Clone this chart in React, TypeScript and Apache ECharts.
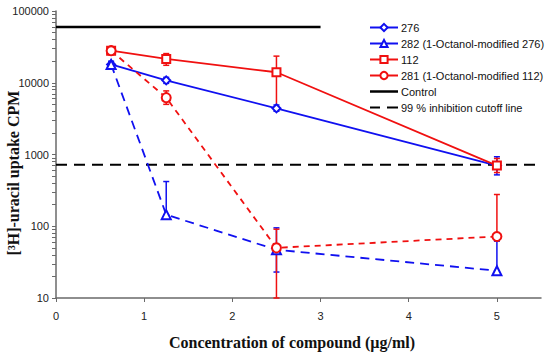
import React, { useEffect, useRef } from "react";
import * as echarts from "echarts";

const concentrations = [0.625, 1.25, 2.5, 5];

const s276 = [18000, 10800, 4400, 700];
const s282 = [18000, 145, 47, 24];
const s112 = [28000, 21500, 14000, 700];
const s281 = [28000, 6200, 50, 72];

// [low, high] error ranges
const e276 = [[16000, 20000], [9800, 11900], [4000, 4900], [520, 930]];
const e282 = [[16500, 19500], [145, 420], [23, 95], [24, 62]];
const e112 = [[25500, 31000], [17500, 25500], [4300, 23500], [560, 880]];
const e281 = [[25500, 31000], [5000, 7700], [10, 91], [72, 277]];

const controlX = [0, 3];
const controlValue = 60000;
const cutoffX = [0, 5.5];
const cutoffValue = 720;

const xTicks = [0, 1, 2, 3, 4, 5];
const yMajor = [10, 100, 1000, 10000, 100000];

const BLUE = "#1010f0";
const RED = "#f01010";

function pts(vals: number[]) {
  return concentrations.map((x, i) => [x, vals[i]]);
}
function errData(errs: number[][]) {
  return concentrations.map((x, i) => [x, errs[i][0], errs[i][1]]);
}

function yMinorAll() {
  const out: number[] = [];
  for (let d = 10; d <= 10000; d *= 10) {
    for (let k = 1; k <= 9; k++) out.push(d * k);
  }
  out.push(100000);
  return out;
}

function errSeries(name: string, errs: number[][], color: string) {
  return {
    type: "custom",
    name: name + "_err",
    data: errData(errs),
    encode: { x: 0, y: [1, 2] },
    z: 3,
    silent: true,
    renderItem: (params: any, api: any) => {
      const x = api.value(0);
      const lo = api.value(1);
      const hi = api.value(2);
      const p1 = api.coord([x, lo]);
      const p2 = api.coord([x, hi]);
      const cw = 3;
      const style = { stroke: color, lineWidth: 1.5 };
      return {
        type: "group",
        children: [
          { type: "line", shape: { x1: p1[0], y1: p1[1], x2: p2[0], y2: p2[1] }, style },
          { type: "line", shape: { x1: p1[0] - cw, y1: p1[1], x2: p1[0] + cw, y2: p1[1] }, style },
          { type: "line", shape: { x1: p2[0] - cw, y1: p2[1], x2: p2[0] + cw, y2: p2[1] }, style },
        ],
      };
    },
  };
}

export default function App() {
  const ref = useRef<HTMLDivElement>(null);
  useEffect(() => {
    if (!ref.current) return;
    const chart = echarts.init(ref.current, undefined, { renderer: "svg" });
    const font = "'Liberation Sans', Arial, sans-serif";
    const serif = "'Liberation Serif', 'Times New Roman', serif";
    chart.setOption({
      animation: false,
      backgroundColor: "#ffffff",
      grid: { left: 56, right: 9, top: 11, bottom: 59, containLabel: false },
      xAxis: {
        type: "value",
        min: 0,
        max: 5.5,
        interval: 1,
        axisLine: { show: true, lineStyle: { color: "#6a6a6a", width: 1.5 } },
        axisTick: { show: true, length: 4, customValues: xTicks, lineStyle: { color: "#6a6a6a" } },
        axisLabel: { customValues: xTicks, margin: 12, fontSize: 11, color: "#222", fontFamily: font },
        splitLine: { show: false },
      },
      yAxis: {
        type: "log",
        logBase: 10,
        min: 10,
        max: 100000,
        axisLine: { show: true, lineStyle: { color: "#6a6a6a", width: 1.5 } },
        axisTick: { show: true, length: 4, customValues: yMinorAll(), lineStyle: { color: "#6a6a6a" } },
        axisLabel: {
          customValues: yMajor,
          margin: 7,
          fontSize: 11,
          color: "#222",
          fontFamily: font,
          formatter: (v: number) => String(Math.round(v)),
        },
        splitLine: { show: false },
        minorTick: { show: false },
      },
      legend: {
        orient: "vertical",
        left: 364,
        top: 17,
        itemWidth: 28,
        itemHeight: 9,
        itemGap: 5,
        textStyle: { fontSize: 11, color: "#111", fontFamily: font, padding: [0, 0, 0, -2] },
        data: [
          { name: "276" },
          { name: "282 (1-Octanol-modified 276)", lineStyle: { type: "solid" } },
          { name: "112" },
          { name: "281 (1-Octanol-modified 112)", lineStyle: { type: "solid" } },
          { name: "Control", icon: "path://M0,0h28v2.5h-28z" },
          { name: "99 % inhibition cutoff line", icon: "path://M0,0h10v2.2h-10z M17,0h11v2.2h-11z" },
        ],
      },
      graphic: [
        {
          type: "text",
          x: 13,
          y: 173,
          rotation: Math.PI / 2,
          style: {
            text: "[³H]-uracil uptake CPM",
            font: `bold 16px ${serif}`,
            fill: "#111",
            textAlign: "center",
            textVerticalAlign: "middle",
          },
        },
        {
          type: "text",
          x: 292,
          y: 342,
          style: {
            text: "Concentration of compound (µg/ml)",
            font: `bold 16px ${serif}`,
            fill: "#111",
            textAlign: "center",
            textVerticalAlign: "middle",
          },
        },
      ],
      series: [
        {
          type: "line",
          name: "Control",
          data: controlX.map((x) => [x, controlValue]),
          symbol: "none",
          lineStyle: { color: "#000", width: 2.5 },
          itemStyle: { color: "#000" },
          z: 1,
        },
        {
          type: "line",
          name: "99 % inhibition cutoff line",
          data: cutoffX.map((x) => [x, cutoffValue]),
          symbol: "none",
          lineStyle: { color: "#000", width: 2, type: [11, 7] },
          itemStyle: { color: "#000" },
          z: 1,
        },
        errSeries("276", e276, BLUE),
        errSeries("282", e282, BLUE),
        errSeries("112", e112, RED),
        errSeries("281", e281, RED),
        {
          type: "line",
          name: "276",
          data: pts(s276),
          symbol: "emptyDiamond",
          symbolSize: 8,
          lineStyle: { color: BLUE, width: 1.8 },
          itemStyle: { color: BLUE, borderWidth: 1.2 },
          z: 4,
        },
        {
          type: "line",
          name: "282 (1-Octanol-modified 276)",
          data: pts(s282),
          symbol: "emptyTriangle",
          symbolSize: 9,
          lineStyle: { color: BLUE, width: 1.8, type: [9, 6] },
          itemStyle: { color: BLUE, borderWidth: 1.2 },
          z: 4,
        },
        {
          type: "line",
          name: "112",
          data: pts(s112),
          symbol: "emptyRect",
          symbolSize: 8,
          lineStyle: { color: RED, width: 1.8 },
          itemStyle: { color: RED, borderWidth: 1.2 },
          z: 4,
        },
        {
          type: "line",
          name: "281 (1-Octanol-modified 112)",
          data: pts(s281),
          symbol: "emptyCircle",
          symbolSize: 9,
          lineStyle: { color: RED, width: 1.8, type: [6, 5] },
          itemStyle: { color: RED, borderWidth: 1.2 },
          z: 4,
        },
      ],
    });
    return () => chart.dispose();
  }, []);
  return (
    <div
      ref={ref}
      style={{ position: "fixed", left: 0, top: 0, width: 550, height: 357, background: "#fff" }}
    />
  );
}
